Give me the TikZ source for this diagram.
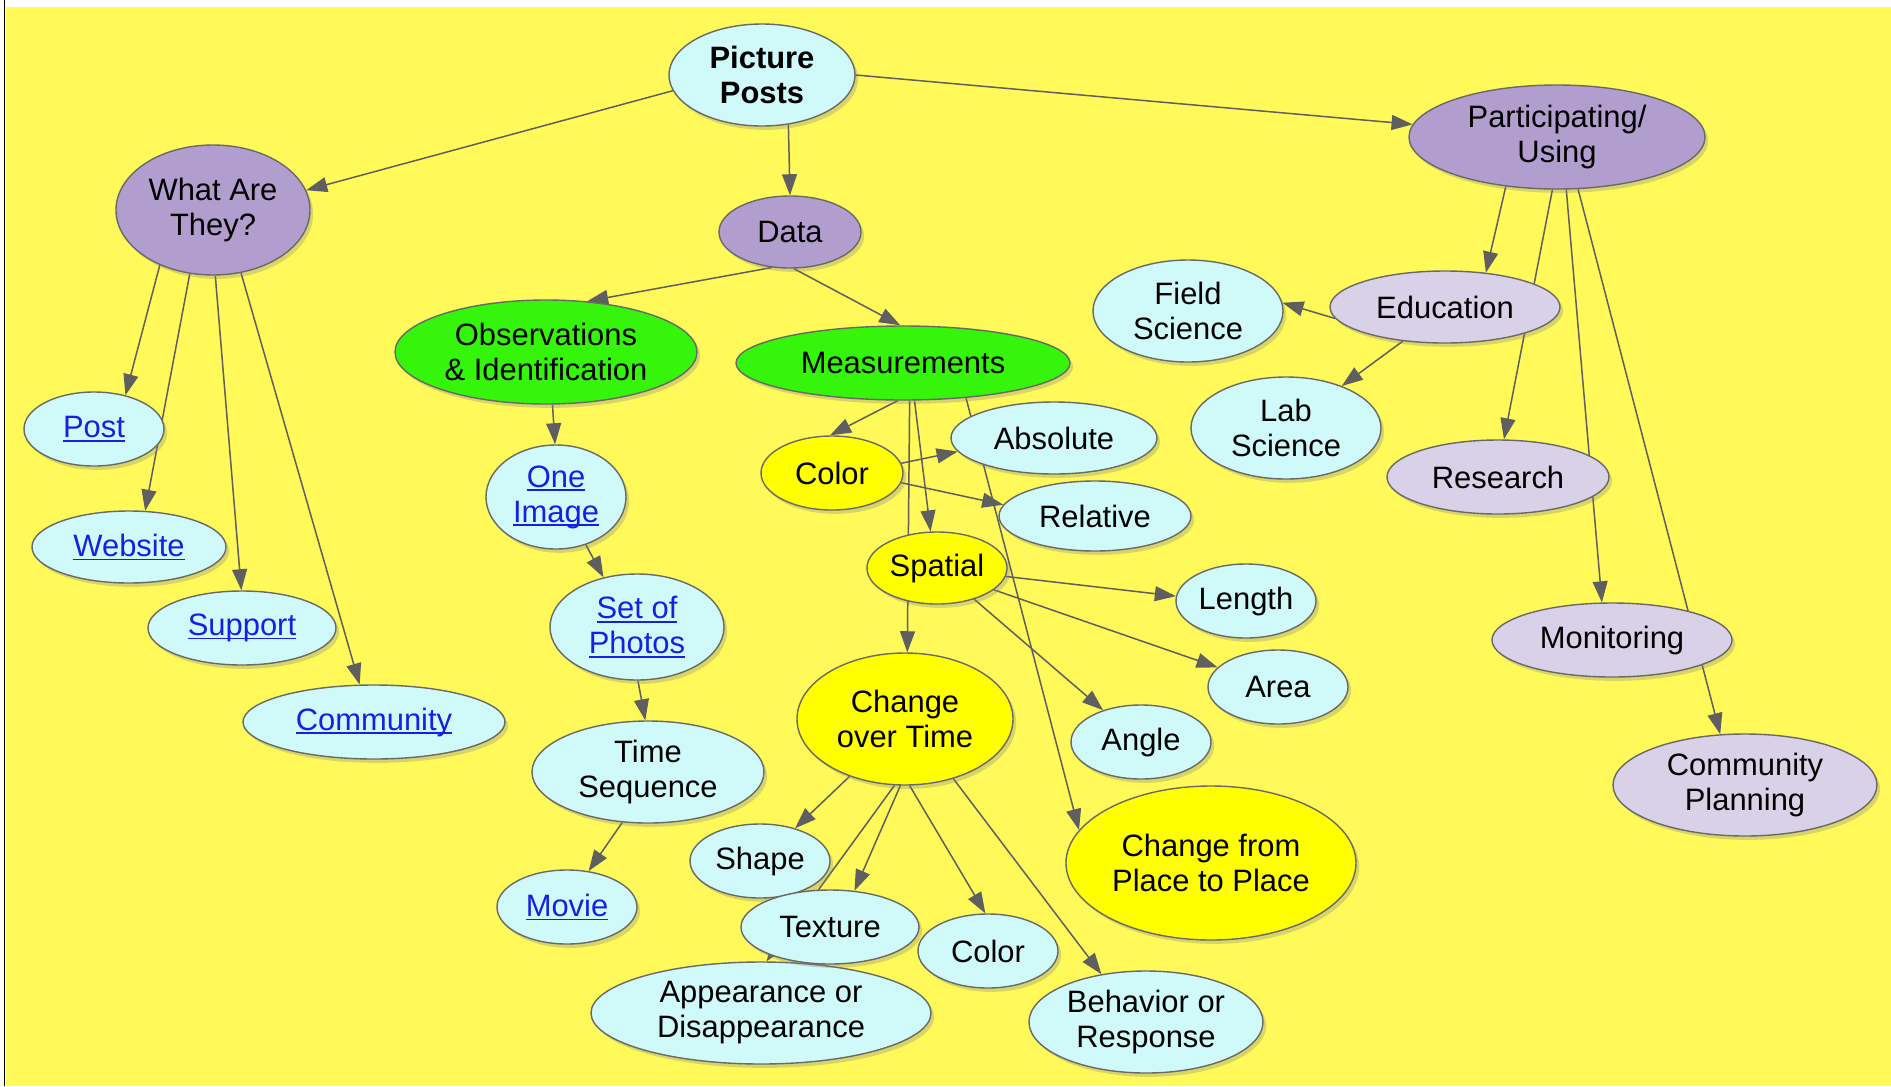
\documentclass[tikz,border=0pt]{standalone}
\usepackage{fontspec}
\setmainfont{Liberation Sans}
\usetikzlibrary{shapes.geometric,arrows.meta,shadows,backgrounds}
\definecolor{bgColor}{RGB}{255,249,90}
\definecolor{cyanFill}{RGB}{208,250,250}
\definecolor{purpleFill}{RGB}{178,158,206}
\definecolor{lavFill}{RGB}{216,209,232}
\definecolor{greenFill}{RGB}{52,245,10}
\definecolor{yelFill}{RGB}{255,255,0}
\definecolor{borderColor}{RGB}{105,105,105}
\definecolor{edgeColor}{RGB}{95,95,95}
\definecolor{linkColor}{RGB}{22,32,228}
\pgfdeclarelayer{edgelayer}
\pgfsetlayers{background,edgelayer,main}
\newcommand{\lnk}[1]{\textcolor{linkColor}{\setbox0\hbox{#1}\rlap{\rule[-2.2pt]{\wd0}{0.9pt}}\box0}}

\begin{document}
\begin{tikzpicture}[x=0.02cm,y=-0.02cm]
    \tikzstyle{concept} = [ellipse,draw=borderColor,line width=0.8pt,inner sep=0pt,align=center,font=\fontsize{17.6pt}{19.9pt}\selectfont,drop shadow={shadow xshift=1.8pt,shadow yshift=-2.2pt,opacity=.3}]
    \tikzstyle{top} = [concept,fill=cyanFill,font=\fontsize{17.6pt}{19.9pt}\selectfont\bfseries]
    \tikzstyle{cat} = [concept,fill=purpleFill]
    \tikzstyle{grp} = [concept,fill=greenFill]
    \tikzstyle{meas} = [concept,fill=yelFill]
    \tikzstyle{leaf} = [concept,fill=cyanFill]
    \tikzstyle{use} = [concept,fill=lavFill]
    \tikzstyle{edge} = [draw=edgeColor,line width=0.85pt,->]
    \tikzset{sz/.style 2 args={minimum width=#1*0.02cm,minimum height=#2*0.02cm}}
    \tikzset{>={Triangle[length=12pt,width=8.5pt]}}

    % page and background
    \useasboundingbox (0,0) rectangle (1891,1086);
    \begin{pgfonlayer}{background}
      \fill[white] (0,0) rectangle (1891,1086);
      \fill[bgColor] (6,7) rectangle (1891,1086);
      \draw[black,line width=0.6pt] (4.5,0) -- (4.5,1086);
    \end{pgfonlayer}

    % top
    \node [top, sz={186}{102}] (pp) at (762,75) {Picture\\Posts};
    \node [cat, sz={194}{130}] (wat) at (213,210) {What Are\\They?};
    \node [cat, sz={142}{72}] (data) at (790,232) {Data};
    \node [cat, sz={296}{104}] (part) at (1557,137) {Participating/\\Using};

    % what are they
    \node [leaf, sz={140}{74}] (post) at (94,429) {\lnk{Post}};
    \node [leaf, sz={194}{72}] (web) at (129,547) {\lnk{Website}};
    \node [leaf, sz={188}{74}] (sup) at (242,628) {\lnk{Support}};
    \node [leaf, sz={262}{74}] (comm) at (374,722) {\lnk{Community}};

    % data
    \node [grp, sz={302}{104}] (obs) at (546,352) {Observations\\\& Identification};
    \node [grp, sz={334}{74}] (meas) at (903,363) {Measurements};
    \node [leaf, sz={140}{104}] (one) at (556,497) {\lnk{One}\\\lnk{Image}};
    \node [leaf, sz={174}{106}] (photos) at (637,627) {\lnk{Set of}\\\lnk{Photos}};
    \node [leaf, sz={232}{102}] (tseq) at (648,772) {Time\\Sequence};
    \node [leaf, sz={140}{74}] (movie) at (567,907) {\lnk{Movie}};

    \node [meas, sz={142}{74}] (colA) at (832,473) {Color};
    \node [leaf, sz={206}{72}] (abs) at (1054,438) {Absolute};
    \node [leaf, sz={192}{70}] (rel) at (1095,516) {Relative};
    \node [meas, sz={140}{72}] (spat) at (937,568) {Spatial};
    \node [leaf, sz={140}{74}] (len) at (1246,601) {Length};
    \node [leaf, sz={140}{74}] (area) at (1278,687) {Area};
    \node [leaf, sz={140}{74}] (angle) at (1141,742) {Angle};
    \node [meas, sz={216}{132}] (cot) at (905,719) {Change\\over Time};
    \node [meas, sz={290}{154}] (cfpp) at (1211,863) {Change from\\Place to Place};

    \node [leaf, sz={140}{74}] (shape) at (760,861) {Shape};
    \node [leaf, sz={340}{102}] (app) at (761,1013) {Appearance or\\Disappearance};
    \node [leaf, sz={178}{74}] (tex) at (830,927) {Texture};
    \node [leaf, sz={140}{74}] (colB) at (988,951) {Color};
    \node [leaf, sz={234}{102}] (beh) at (1146,1022) {Behavior or\\Response};

    % participating
    \node [use, sz={230}{72}] (edu) at (1445,307) {Education};
    \node [leaf, sz={190}{102}] (field) at (1188,311) {Field\\Science};
    \node [leaf, sz={190}{102}] (lab) at (1286,428) {Lab\\Science};
    \node [use, sz={222}{74}] (res) at (1498,477) {Research};
    \node [use, sz={240}{74}] (mon) at (1612,640) {Monitoring};
    \node [use, sz={264}{102}] (cplan) at (1745,785) {Community\\Planning};

    \begin{pgfonlayer}{edgelayer}
      \draw[edge] (pp.190) -- (wat.12);
      \draw[edge] (pp.298) -- (data.90);
      \draw[edge] (pp.0) -- (part.175);
      \draw[edge] (wat.226) -- (post.47);
      \draw[edge] (wat.250) -- (web.66);
      \draw[edge] (wat.272) -- (sup.91);
      \draw[edge] (wat.294) -- (comm.111);
      \draw[edge] (data.243) -- (obs.51);
      \draw[edge] (data.276) -- (meas.94);
      \draw[edge] (obs.277) -- (one.91);
      \draw[edge] (one.302) -- (photos.124);
      \draw[edge] (photos.271) -- (tseq.93);
      \draw[edge] (tseq.243) -- (movie.59);
      \draw[edge] (meas.262) -- (colA.93);
      \draw[edge] (meas.287) -- (spat.100);
      \draw[edge] (meas.280) -- (cot.88);
      \draw[edge] (meas.331) -- (cfpp.166);
      \draw[edge] (colA.8) -- (abs.188);
      \draw[edge] (colA.352) -- (rel.173);
      \draw[edge] (spat.353) -- (len.176);
      \draw[edge] (spat.339) -- (area.162);
      \draw[edge] (spat.320) -- (angle.140);
      \draw[edge] (cot.226) -- (shape.43);
      \draw[edge] (cot.261) -- (app.84);
      \draw[edge] (cot.266) -- (tex.56);
      \draw[edge] (cot.274) -- (colB.94);
      \draw[edge] (cot.309) -- (beh.133);
      \draw[edge] (part.224) -- (edu.40);
      \draw[edge] (part.265) -- (res.81);
      \draw[edge] (part.280) -- (mon.105);
      \draw[edge] (part.292) -- (cplan.116);
      \draw[edge] (edu.186) -- (field.5);
      \draw[edge] (edu.219) -- (lab.37);
    \end{pgfonlayer}

\end{tikzpicture}
\end{document}
